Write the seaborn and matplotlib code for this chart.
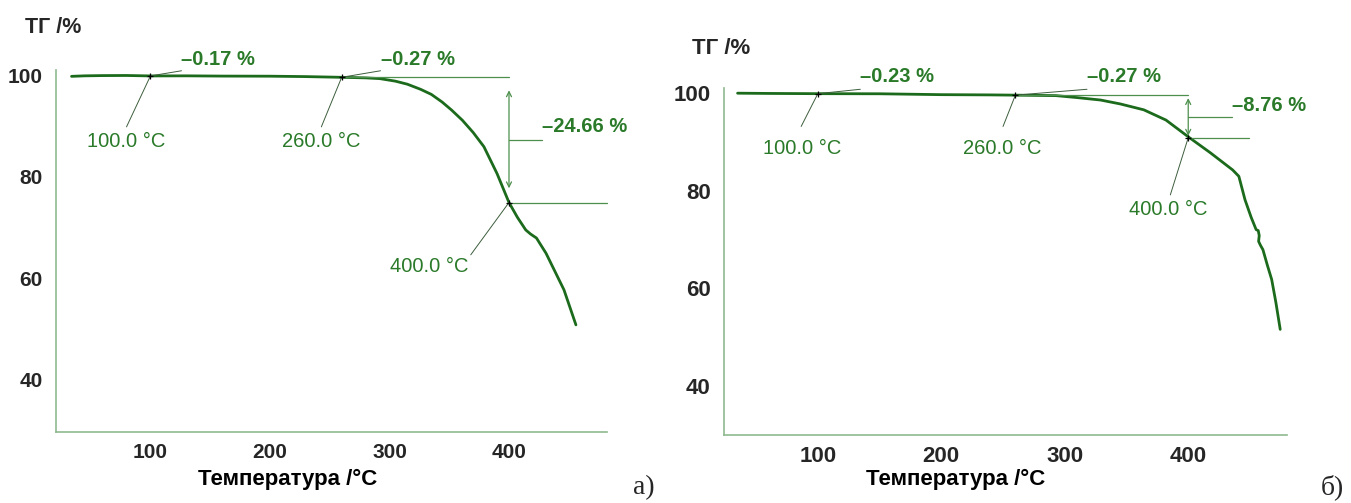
import matplotlib
matplotlib.use("Agg")
import matplotlib.pyplot as plt
import seaborn as sns
import pandas as pd

# ---------------- data ----------------
temp_a = [34, 45, 60, 80, 100, 130, 160, 200, 230, 260, 280, 292, 305, 315, 326, 335, 344, 352,
          361, 370, 379, 390, 400, 407, 414, 418, 423, 431, 446, 456]
mass_a = [99.75, 99.85, 99.9, 99.92, 99.83, 99.85, 99.8, 99.78, 99.7, 99.56, 99.45, 99.3, 98.8,
          98.2, 97.2, 96.2, 94.7, 93.1, 91.1, 88.7, 85.9, 80.6, 74.9, 72.0, 69.5, 68.7, 67.9,
          64.9, 57.7, 50.8]

temp_b = [35, 60, 100, 150, 200, 240, 260, 293, 310, 329, 345, 364, 382, 401, 418, 436, 441,
          446, 451, 455, 456.7, 457.5, 457.0, 458.5, 460.5, 464, 467.6, 471, 474.5]
mass_b = [99.9, 99.85, 99.8, 99.78, 99.6, 99.55, 99.5, 99.4, 99.0, 98.5, 97.7, 96.5, 94.4, 90.8,
          87.7, 84.2, 82.9, 78.1, 74.5, 72.0, 71.8, 70.8, 69.6, 68.8, 67.9, 64.8, 61.8, 57.1, 51.6]

mark_temps = [100.0, 260.0, 400.0]
mark_labels = ["100.0 °C", "260.0 °C", "400.0 °C"]
steps_a = ["\u20130.17 %", "\u20130.27 %", "\u201324.66 %"]
steps_b = ["\u20130.23 %", "\u20130.27 %", "\u20138.76 %"]
level_a = [99.83, 99.56, 74.9]
level_b = [99.8, 99.5, 90.8]

x_major = [100, 200, 300, 400]
y_major = [40, 60, 80, 100]
y_title = "ТГ /%"
x_title = "Температура /°C"
panel_tags = ["а)", "б)"]

# ---------------- style ----------------
sns.set_style("white")
plt.rcParams["font.family"] = ["Liberation Sans", "DejaVu Sans"]

W, H = 1351, 503
fig = plt.figure(figsize=(W / 100, H / 100), dpi=100)

CURVE = "#1c6b1c"
TXT = "#2a7a2a"
ANN = "#4d8f4d"
LEAD = "#3d5d3d"
SPINE = "#8fb98f"


def px_axes(x0, x1, ytop, ybot):
    return fig.add_axes([x0 / W, 1 - ybot / H, (x1 - x0) / W, (ybot - ytop) / H])


def style_axes(ax, xlim, ylim, tick_fs, xlab_frac, xlab_y):
    ax.set_xlim(*xlim)
    ax.set_ylim(*ylim)
    for s in ["top", "right"]:
        ax.spines[s].set_visible(False)
    for s in ["left", "bottom"]:
        ax.spines[s].set_color(SPINE)
        ax.spines[s].set_linewidth(1.2)
    ax.set_xticks(x_major)
    ax.set_xticks([t for t in range(40, int(xlim[1]) + 1, 20) if t not in x_major], minor=True)
    ax.set_yticks(y_major)
    ax.set_yticks([30, 50, 70, 90], minor=True)
    ax.tick_params(which="both", direction="out", length=3, width=0.8, color="#555555")
    ax.tick_params(axis="x", which="major", pad=5, labelsize=tick_fs)
    ax.tick_params(axis="y", which="major", pad=6.5, labelsize=tick_fs)
    for lab in ax.get_xticklabels() + ax.get_yticklabels():
        lab.set_fontweight("bold")
    ax.set_xlabel(x_title, fontsize=16, fontweight="bold", color="black")
    ax.xaxis.set_label_coords(xlab_frac, xlab_y)
    ax.set_ylabel("")
    ax.grid(False)


def annotate_panel(ax, temps, masses, levels, steps, layout):
    df = pd.DataFrame({"T": temps, "m": masses})
    sns.lineplot(data=df, x="T", y="m", ax=ax, color=CURVE, lw=2.0, sort=False,
                 estimator=None)
    # small black marks at the evaluation points
    ax.plot(mark_temps, levels, ls="none", marker="+", ms=5, mew=0.9, color="black",
            zorder=5)
    t400 = mark_temps[2]
    # reference horizontal at the 260 °C level
    ax.plot([mark_temps[1], t400], [levels[1], levels[1]], color=ANN, lw=0.9)
    # double arrow
    ax.annotate("", xy=(t400, layout["arr_top"]), xytext=(t400, layout["arr_bot"]),
                arrowprops=dict(arrowstyle="<->", color=ANN, lw=0.9, mutation_scale=9,
                                shrinkA=0, shrinkB=0))
    # connector to step label
    ax.plot([t400, layout["step_x"]], [layout["conn_y"], layout["conn_y"]], color=ANN, lw=0.9)
    # horizontal at 400 level
    ax.plot([t400, layout["lvl_end"]], [levels[2], levels[2]], color=ANN, lw=0.9,
            clip_on=False)
    ax.text(layout["step_x"], layout["step_y"], steps[2], color=TXT, fontsize=14.5,
            fontweight="bold", ha="left", va="center")
    # small step labels and temperature labels with leaders
    for i in range(2):
        t, lv = mark_temps[i], levels[i]
        sx, sy = layout["small"][i]
        ax.plot([t, sx], [lv, layout["small_lead_y"]], color=LEAD, lw=0.7, clip_on=False)
        ax.text(sx, sy, steps[i], color=TXT, fontsize=14.5, fontweight="bold", ha="left",
                va="center", clip_on=False)
    for i in range(3):
        t, lv = mark_temps[i], levels[i]
        (lx, ly), (cx, cy) = layout["tlab"][i]
        ax.plot([t, lx], [lv, ly], color=LEAD, lw=0.7)
        ax.text(cx, cy, mark_labels[i], color=TXT, fontsize=14.5, ha="center", va="center")


# ---------------- panel a ----------------
ax1 = px_axes(56, 607, 70, 432)
annotate_panel(ax1, temp_a, mass_a, level_a, steps_a, dict(
    arr_top=97.0, arr_bot=77.7, step_x=428, conn_y=87.3, step_y=89.8, lvl_end=482,
    small=[(126, 103.1), (292.5, 103.1)], small_lead_y=100.85,
    tlab=[((80, 89.8), (80, 86.9)), ((243, 89.8), (243, 86.9)), ((368, 64.6), (333, 62.3))],
))
style_axes(ax1, (21, 482), (29.7, 101), 15, 0.42, -0.102)

# ---------------- panel b ----------------
ax2 = px_axes(724, 1287, 88.3, 435)
annotate_panel(ax2, temp_b, mass_b, level_b, steps_b, dict(
    arr_top=98.9, arr_bot=91.2, step_x=435.7, conn_y=95.0, step_y=97.3, lvl_end=449,
    small=[(134.4, 103.3), (318, 103.3)], small_lead_y=100.7,
    tlab=[((86.5, 93.1), (87.4, 88.6)), ((250, 93.1), (249.4, 88.6)),
          ((385.5, 79.1), (383.8, 76.1))],
))
style_axes(ax2, (24, 480), (30.1, 100.9), 16, 0.411, -0.098)

# y titles
fig.text(25 / W, 1 - 27.5 / H, y_title, fontsize=15.5, fontweight="bold", ha="left",
         va="center")
fig.text(692 / W, 1 - 49 / H, y_title, fontsize=16, fontweight="bold", ha="left", va="center")

# panel tags
fig.text(633 / W, 1 - 494 / H, panel_tags[0], fontsize=20, family="Liberation Serif",
         ha="left", va="baseline")
fig.text(1321 / W, 1 - 494 / H, panel_tags[1], fontsize=20, family="Liberation Serif",
         ha="left", va="baseline")

fig.savefig("out.png", dpi=100)
